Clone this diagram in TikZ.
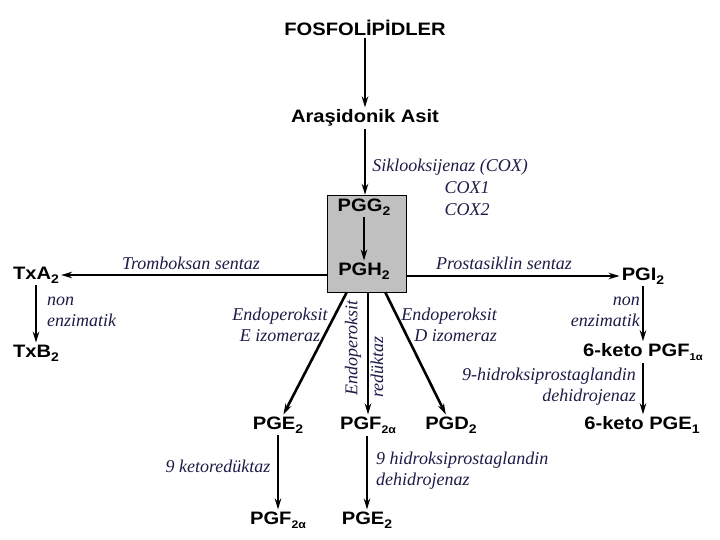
\documentclass[tikz,border=0pt]{standalone}
\usepackage{fontspec}
\usetikzlibrary{arrows.meta,calc}

\newfontfamily\chemfont[FakeStretch=1.12]{Liberation Sans}
\newfontfamily\enzfont{Liberation Serif}
\newcommand{\chsub}[1]{\raisebox{-4pt}{\fontsize{12.5}{13}\selectfont #1}}

\definecolor{enzcol}{RGB}{28,28,72}
\definecolor{boxgray}{RGB}{192,192,192}

\tikzset{
  chem/.style={font=\chemfont\fontsize{18}{20}\selectfont\bfseries, inner sep=2pt},
  enz/.style={font=\enzfont\fontsize{18}{21}\selectfont\itshape, text=enzcol, inner sep=1pt},
  arr/.style={-{Stealth[length=11pt,width=6.5pt]}, line width=2pt},
  heavy/.style={line width=2.6pt},
}

\begin{document}
\begin{tikzpicture}[
  x=1pt, y=-1pt,
  coxbox/.style={draw, fill=boxgray, minimum width=79pt, minimum height=97pt, inner sep=0pt},
  ]
  \useasboundingbox (0,0) rectangle (720,540);

  % top of the pathway
  \node[chem] (fosfo) at (365,28) {FOSFOLİPİDLER};
  \node[chem] (aras) at (365,118) {Araşidonik Asit};

  \node[coxbox] (cox) at (366.5,243.5) {};
  \node[chem] (pgg) at (364,207) {PGG\chsub{2}};
  \node[chem] (pgh) at (364,271) {PGH\chsub{2}};

  \node[enz] (siklo) at (450,167) {Siklooksijenaz (COX)};
  \node[enz] (cox1) at (467,188) {COX1};
  \node[enz] (cox2) at (467,210) {COX2};

  % products
  \node[chem] (txa) at (36,275) {TxA\chsub{2}};
  \node[chem] (txb) at (36,353) {TxB\chsub{2}};
  \node[chem] (pgi) at (643,276) {PGI\chsub{2}};
  \node[chem] (kpgf) at (643,352) {6-keto PGF\chsub{\fontsize{10}{10}\selectfont 1α}};
  \node[chem] (kpge) at (642,425) {6-keto PGE\chsub{1}};
  \node[chem] (pge) at (278,425) {PGE\chsub{2}};
  \node[chem] (pgfa) at (368,425) {PGF\chsub{\fontsize{11}{11}\selectfont 2α}};
  \node[chem] (pgd) at (451,425) {PGD\chsub{2}};
  \node[chem] (pgfb) at (278,520) {PGF\chsub{\fontsize{11}{11}\selectfont 2α}};
  \node[chem] (pgeb) at (367,520) {PGE\chsub{2}};

  % enzymes
  \node[enz] (tromb) at (191,263) {Tromboksan sentaz};
  \node[enz, align=left, anchor=west] (nonl) at (46,312) {non\\enzimatik};
  \node[enz, align=center] (eiso) at (280,325) {Endoperoksit\\E izomeraz};
  \node[enz, rotate=90] (redl1) at (353,348) {Endoperoksit};
  \node[enz, rotate=90] (redl2) at (377,367) {redüktaz};
  \node[enz, align=right, anchor=east] (diso) at (498,325) {Endoperoksit\\D izomeraz};
  \node[enz] (prost) at (504,263) {Prostasiklin sentaz};
  \node[enz, align=right, anchor=east] (nonr) at (641,312) {non\\enzimatik};
  \node[enz, align=right, anchor=east] (hidr1) at (637,387) {9-hidroksiprostaglandin\\dehidrojenaz};
  \node[enz] (ketor) at (218,466) {9 ketoredüktaz};
  \node[enz, align=left, anchor=west] (hidr2) at (375,471) {9 hidroksiprostaglandin\\dehidrojenaz};

  % arrows
  \draw[arr] (fosfo) -- (aras);
  \draw[arr] (aras) -- (aras |- cox.north);
  \draw[arr] (pgg) -- (pgh);
  \draw[arr, heavy] (cox.west |- txa) -- (txa);
  \draw[arr, heavy] (cox.east |- pgi) -- (pgi);
  \draw[arr] (txa.south) -- (txa.south |- txb.north);
  \draw[arr] (pgi.south) -- (pgi.south |- kpgf.north);
  \draw[arr] (kpgf.south -| pgi.south) -- (pgi.south |- kpge.north);
  \draw[arr, heavy] ([xshift=20pt]cox.south west) -- (pge);
  \draw[arr] (pgfa.north |- cox.south) -- (pgfa.north);
  \draw[arr, heavy] ([xshift=-21pt]cox.south east) -- (pgd);
  \draw[arr] (pge.south) -- (pge.south |- pgfb.north);
  \draw[arr] (pgeb.north |- pgfa.south) -- (pgeb.north);
\end{tikzpicture}
\end{document}
